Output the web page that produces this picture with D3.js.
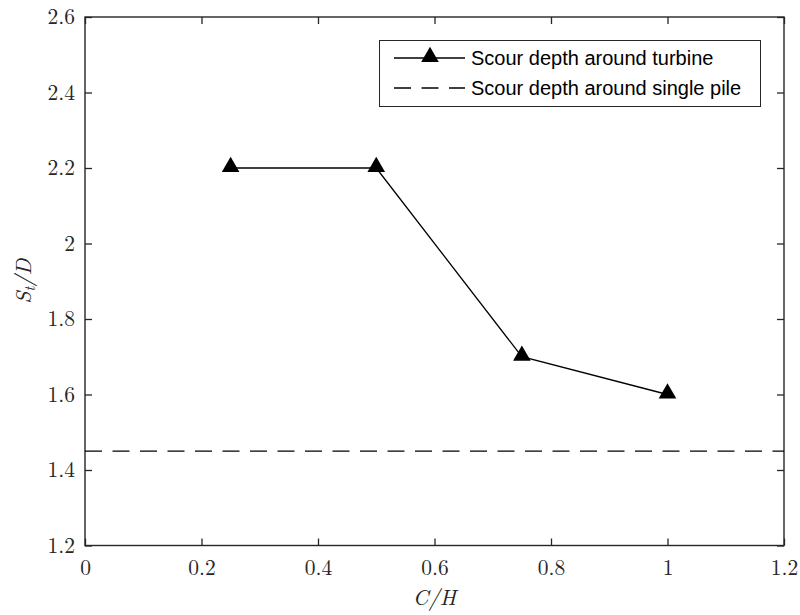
<!DOCTYPE html>
<html><head><meta charset="utf-8">
<script src="https://cdn.jsdelivr.net/npm/d3@7"></script>
<style>body{margin:0;background:#fff}</style>
</head><body>
<svg id="c" width="800" height="615"></svg>
<script>
const ratioCH = [0.25, 0.5, 0.75, 1.0];
const scourTurbine = [2.2, 2.2, 1.7, 1.6];
const singlePile = 1.45;
const xTicks = [0, 0.2, 0.4, 0.6, 0.8, 1, 1.2];
const yTicks = [1.2, 1.4, 1.6, 1.8, 2, 2.2, 2.4, 2.6];
const legendLabels = ["Scour depth around turbine", "Scour depth around single pile"];

const svg = d3.select("#c");
const L = 85, R = 784, T = 17, B = 545.5;
const x = d3.scaleLinear().domain([0, 1.2]).range([L, R]);
const y = d3.scaleLinear().domain([1.2, 2.6]).range([B, T]);
const serif = "'Latin Modern Roman','CMU Serif','Liberation Serif','DejaVu Serif',serif";
const tk = 7;
const dash = "17,10.5";

const g = svg.append("g");
const axB = d3.axisBottom(x).tickValues(xTicks).tickSize(-tk).tickPadding(14).tickFormat(d3.format("~g"));
const axT = d3.axisTop(x).tickValues(xTicks).tickSize(-tk).tickFormat("");
const axL = d3.axisLeft(y).tickValues(yTicks).tickSize(-tk).tickPadding(10).tickFormat(d3.format("~g"));
const axR = d3.axisRight(y).tickValues(yTicks).tickSize(-tk).tickFormat("");
g.append("g").attr("transform", `translate(0,${B})`).call(axB);
g.append("g").attr("transform", `translate(0,${T})`).call(axT);
g.append("g").attr("transform", `translate(${L},0)`).call(axL);
g.append("g").attr("transform", `translate(${R},0)`).call(axR);
g.selectAll(".domain").remove();
g.selectAll(".tick line").attr("stroke", "#262626").attr("stroke-width", 1.3);
g.selectAll(".tick text").attr("font-family", serif).attr("font-size", 21.5).attr("fill", "#262626");
svg.append("rect").attr("x", L).attr("y", T).attr("width", R - L).attr("height", B - T)
  .attr("fill", "none").attr("stroke", "#262626").attr("stroke-width", 1.4);

// dashed single pile line
svg.append("line").attr("x1", L).attr("x2", R).attr("y1", y(singlePile)).attr("y2", y(singlePile))
  .attr("stroke", "#000").attr("stroke-width", 1.3).attr("stroke-dasharray", dash);

// turbine line
const pts = ratioCH.map((d, i) => [d, scourTurbine[i]]);
svg.append("path").datum(pts)
  .attr("d", d3.line().x(d => x(d[0])).y(d => y(d[1])))
  .attr("fill", "none").attr("stroke", "#000").attr("stroke-width", 1.3);
const tri = d3.symbol().type(d3.symbolTriangle).size(135);
svg.selectAll(".m").data(pts).enter().append("path")
  .attr("d", tri).attr("transform", d => `translate(${x(d[0])},${y(d[1]) - 1})`).attr("fill", "#000");

// axis titles
svg.append("text").attr("x", (L + R) / 2).attr("y", 605).attr("text-anchor", "middle")
  .attr("font-family", serif).attr("font-style", "italic").attr("font-size", 22).attr("fill", "#262626")
  .text("C/H");
const yt = svg.append("text").attr("transform", `translate(31,${(T + B) / 2}) rotate(-90)`)
  .attr("text-anchor", "middle").attr("font-family", serif).attr("font-style", "italic").attr("font-size", 22).attr("fill", "#262626");
yt.append("tspan").text("S");
yt.append("tspan").attr("font-size", 15).attr("dy", 4).text("t");
yt.append("tspan").attr("dy", -4).text("/D");

// legend
const lg = svg.append("g");
lg.append("rect").attr("x", 379.5).attr("y", 40.5).attr("width", 381).attr("height", 66)
  .attr("fill", "#fff").attr("stroke", "#262626").attr("stroke-width", 1);
const ly = [58, 88];
lg.append("line").attr("x1", 394).attr("x2", 465).attr("y1", ly[0]).attr("y2", ly[0]).attr("stroke", "#000").attr("stroke-width", 1.3);
lg.append("path").attr("d", tri).attr("transform", `translate(430,${ly[0] - 1})`).attr("fill", "#000");
lg.append("line").attr("x1", 394).attr("x2", 465).attr("y1", ly[1]).attr("y2", ly[1]).attr("stroke", "#000").attr("stroke-width", 1.3).attr("stroke-dasharray", dash);
legendLabels.forEach((t, i) => {
  lg.append("text").attr("x", 471).attr("y", ly[i] + 7).attr("font-family", "'Liberation Sans',Arial,sans-serif")
    .attr("font-size", 20).attr("fill", "#000").text(t);
});
</script>
</body></html>
